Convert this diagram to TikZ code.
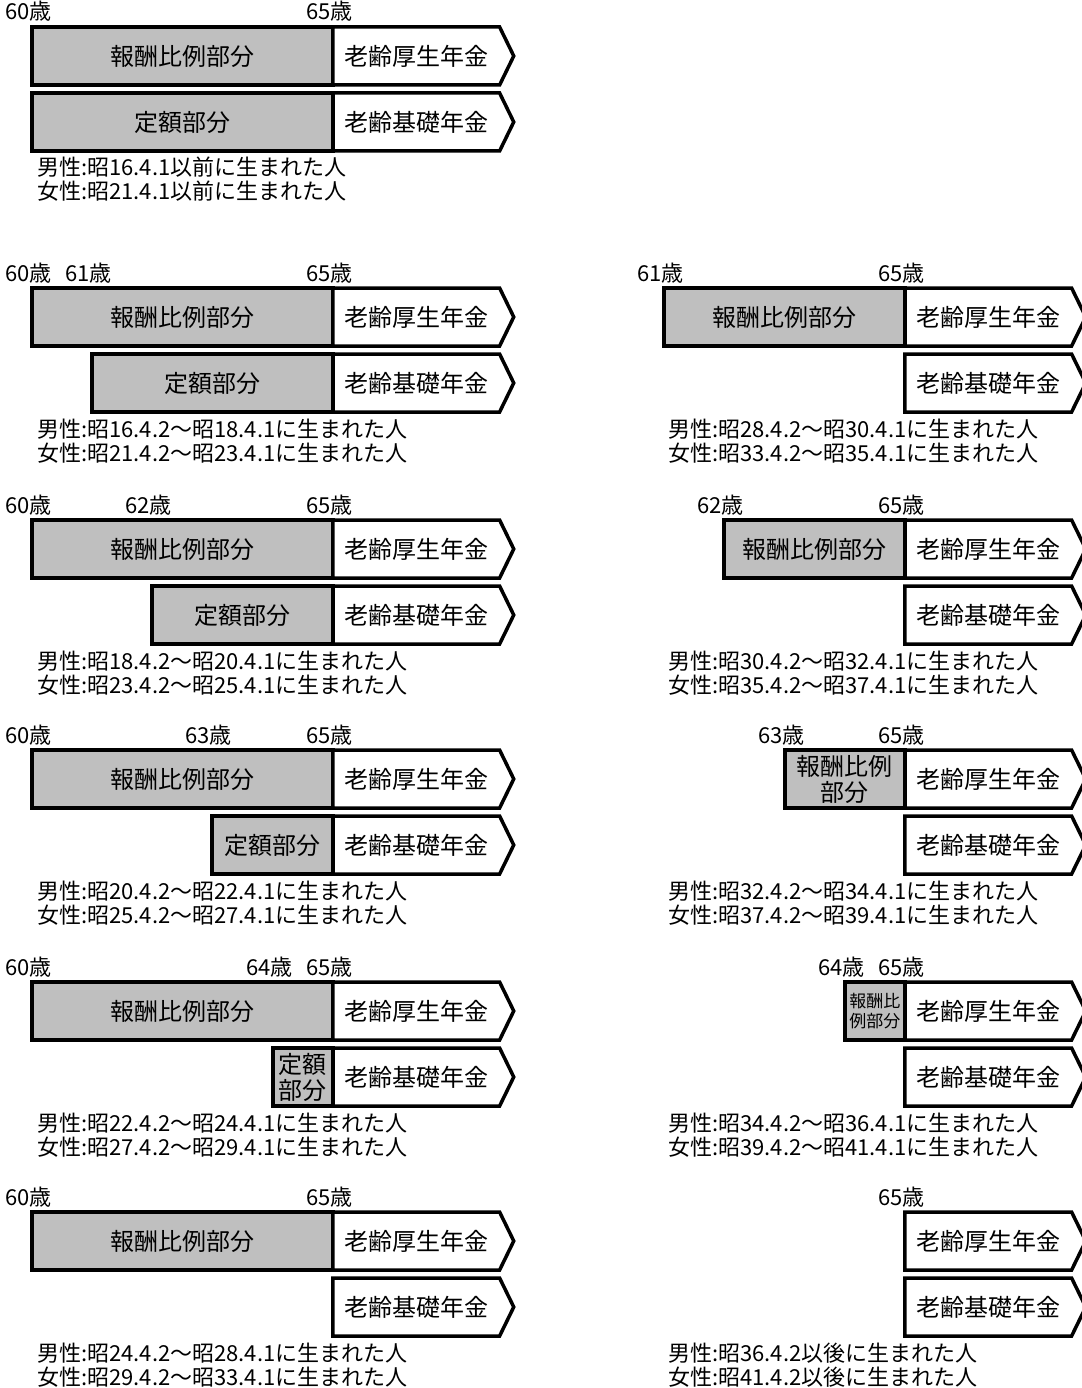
\documentclass[tikz,border=0pt]{standalone}
\usepackage{fontspec}
\setmainfont{Noto Sans CJK JP}
\usetikzlibrary{shapes.symbols}
\begin{document}
\begin{tikzpicture}[x=1pt,y=-1pt]
            \tikzstyle{hoshu}=[rectangle,draw=black,line width=3.5pt,fill=black!25,minimum height=58pt,inner sep=0pt,anchor=west,align=center,font=\fontsize{24}{26}\selectfont]
            \tikzstyle{nenkin}=[signal,signal to=east,signal pointer angle=128,draw=black,line width=3.5pt,fill=white,minimum width=181pt,minimum height=58pt,inner sep=0pt,anchor=west,font=\fontsize{24}{24}\selectfont]
            \tikzstyle{sai}=[anchor=base east,inner sep=0pt,font=\fontsize{22}{22}\selectfont]
            \tikzstyle{umare}=[anchor=base west,inner sep=0pt,font=\fontsize{22}{22}\selectfont]
                \useasboundingbox (0,0) rectangle (1081,1388);

                \foreach \T [count=\i] in {27,288,520,750,982,1212}{
                    \node[hoshu,minimum width=301pt] (hoshu-L\i) at (30,\T+29){報酬比例部分};
                    \node[nenkin] (kosei-L\i) at (331,\T+29){老齢厚生年金};
                    \node[nenkin] (kiso-L\i) at (331,\T+95){老齢基礎年金};
                    \node[sai] (sai60-L\i) at (30,\T-7){60\rlap{歳}};
                    \node[sai] (sai65-L\i) at (331,\T-7){65\rlap{歳}};
                }
                \foreach \T/\x [count=\i] in {27/30, 288/90, 520/150, 750/210}
                    \node[hoshu,minimum width=(331-\x)*1pt] (teigaku-L\i) at (\x,\T+95){定額部分};
                \node[hoshu,minimum width=60pt] (teigaku-L5) at (271,1077){定額\\部分};

                \foreach \T [count=\i from 2] in {288,520,750,982,1212}{
                    \node[nenkin] (kosei-R\i) at (903,\T+29){老齢厚生年金};
                    \node[nenkin] (kiso-R\i) at (903,\T+95){老齢基礎年金};
                    \node[sai] (sai65-R\i) at (903,\T-7){65\rlap{歳}};
                }
                \node[hoshu,minimum width=241pt] (hoshu-R2) at (662,317){報酬比例部分};
                \node[hoshu,minimum width=181pt] (hoshu-R3) at (722,549){報酬比例部分};
                \node[hoshu,minimum width=120pt] (hoshu-R4) at (783,779){報酬比例\\部分};
                \node[hoshu,minimum width=60pt,font=\fontsize{17}{20}\selectfont] (hoshu-R5) at (843,1011){報酬比\\例部分};

                \foreach \T/\a/\x/\y [count=\i from 2] in {288/61/90/662, 520/62/150/722, 750/63/210/783, 982/64/271/843}{
                    \node[sai] (sai-L\i) at (\x,\T-7){\a\rlap{歳}};
                    \node[sai] (sai-R\i) at (\y,\T-7){\a\rlap{歳}};
                }

                \foreach \T/\m/\f [count=\i] in {27/昭16.4.1以前/昭21.4.1以前, 288/昭16.4.2〜昭18.4.1/昭21.4.2〜昭23.4.1, 520/昭18.4.2〜昭20.4.1/昭23.4.2〜昭25.4.1, 750/昭20.4.2〜昭22.4.1/昭25.4.2〜昭27.4.1, 982/昭22.4.2〜昭24.4.1/昭27.4.2〜昭29.4.1, 1212/昭24.4.2〜昭28.4.1/昭29.4.2〜昭33.4.1}{
                    \node[umare] (otoko-L\i) at (37,\T+149){男性:\m{}に生まれた人};
                    \node[umare] (onna-L\i) at (37,\T+173){女性:\f{}に生まれた人};
                }
                \foreach \T/\m/\f [count=\i from 2] in {288/昭28.4.2〜昭30.4.1/昭33.4.2〜昭35.4.1, 520/昭30.4.2〜昭32.4.1/昭35.4.2〜昭37.4.1, 750/昭32.4.2〜昭34.4.1/昭37.4.2〜昭39.4.1, 982/昭34.4.2〜昭36.4.1/昭39.4.2〜昭41.4.1, 1212/昭36.4.2以後/昭41.4.2以後}{
                    \node[umare] (otoko-R\i) at (668,\T+149){男性:\m{}に生まれた人};
                    \node[umare] (onna-R\i) at (668,\T+173){女性:\f{}に生まれた人};
                }
\end{tikzpicture}
\end{document}
